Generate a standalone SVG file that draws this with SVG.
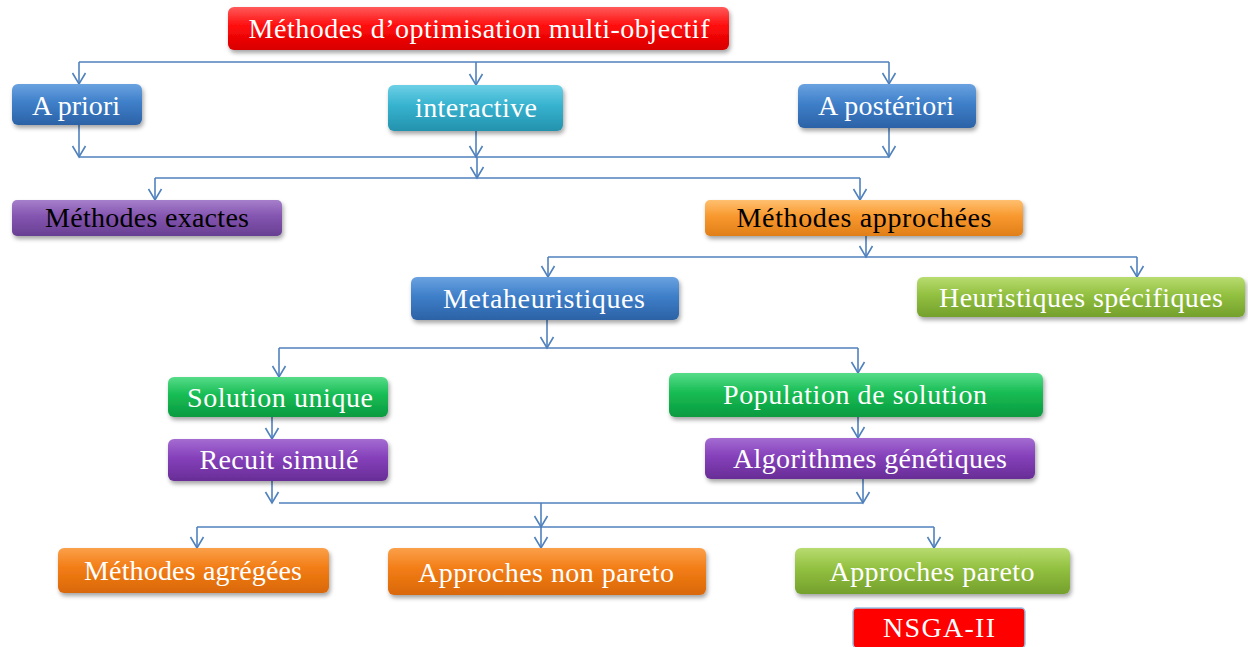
<svg xmlns="http://www.w3.org/2000/svg" width="1248" height="647" viewBox="0 0 1248 647">
<defs>
<style>
.t{font-family:"Liberation Serif","Times New Roman",serif;font-size:28px;fill:#fff;text-anchor:middle}
.k{fill:#000}
.b{filter:url(#sh)}
.c{fill:none;stroke:#4f81bd;stroke-width:1.6}
.a{marker-end:url(#ar)}
</style>
<filter id="sh" x="-10%" y="-30%" width="120%" height="170%">
<feDropShadow dx="1.5" dy="3" stdDeviation="2" flood-color="#000" flood-opacity="0.35"/>
</filter>
<marker id="ar" markerUnits="userSpaceOnUse" markerWidth="16" markerHeight="16" viewBox="0 0 16 16" refX="13" refY="8" orient="auto">
<path d="M2,1.5 L13,8 L2,14.5" fill="none" stroke="#4f81bd" stroke-width="1.6"/>
</marker>
<linearGradient id="gRed" x1="0" y1="0" x2="0" y2="1"><stop offset="0" stop-color="#ff5a5a"/><stop offset="0.45" stop-color="#ff0a0a"/><stop offset="1" stop-color="#d80000"/></linearGradient>
<linearGradient id="gBlue" x1="0" y1="0" x2="0" y2="1"><stop offset="0" stop-color="#6aa2e0"/><stop offset="0.45" stop-color="#3e7fc9"/><stop offset="1" stop-color="#2c62a6"/></linearGradient>
<linearGradient id="gCyan" x1="0" y1="0" x2="0" y2="1"><stop offset="0" stop-color="#6cd0e6"/><stop offset="0.45" stop-color="#36b2cf"/><stop offset="1" stop-color="#2492ad"/></linearGradient>
<linearGradient id="gPurpL" x1="0" y1="0" x2="0" y2="1"><stop offset="0" stop-color="#a67fcb"/><stop offset="0.45" stop-color="#8455b0"/><stop offset="1" stop-color="#683f92"/></linearGradient>
<linearGradient id="gPurp" x1="0" y1="0" x2="0" y2="1"><stop offset="0" stop-color="#a46cd2"/><stop offset="0.45" stop-color="#8540ba"/><stop offset="1" stop-color="#682d96"/></linearGradient>
<linearGradient id="gOrL" x1="0" y1="0" x2="0" y2="1"><stop offset="0" stop-color="#ffc070"/><stop offset="0.45" stop-color="#f8982e"/><stop offset="1" stop-color="#e07f18"/></linearGradient>
<linearGradient id="gOr" x1="0" y1="0" x2="0" y2="1"><stop offset="0" stop-color="#fba04a"/><stop offset="0.45" stop-color="#f27c14"/><stop offset="1" stop-color="#d9680a"/></linearGradient>
<linearGradient id="gLime" x1="0" y1="0" x2="0" y2="1"><stop offset="0" stop-color="#b8dc70"/><stop offset="0.45" stop-color="#92c040"/><stop offset="1" stop-color="#74a02c"/></linearGradient>
<linearGradient id="gGreen" x1="0" y1="0" x2="0" y2="1"><stop offset="0" stop-color="#56dc88"/><stop offset="0.45" stop-color="#16bc54"/><stop offset="1" stop-color="#0c9a40"/></linearGradient>
</defs>
<rect width="1248" height="647" fill="#fff"/>

<g id="connectors">
<path class="c" d="M79,62 H889"/>
<path class="c a" d="M79,62 V84"/>
<path class="c a" d="M476,62 V85"/>
<path class="c a" d="M889,62 V84"/>
<path class="c" d="M79,157 H889"/>
<path class="c a" d="M79,125 V157"/>
<path class="c a" d="M476,131 V157"/>
<path class="c a" d="M889,128 V157"/>
<path class="c a" d="M477,157 V178"/>
<path class="c" d="M155,178 H860"/>
<path class="c a" d="M155,178 V200"/>
<path class="c a" d="M860,178 V200"/>
<path class="c a" d="M866,236 V257"/>
<path class="c" d="M548,257 H1137"/>
<path class="c a" d="M548,257 V277"/>
<path class="c a" d="M1137,257 V277"/>
<path class="c a" d="M547,320 V348"/>
<path class="c" d="M279,348 H858"/>
<path class="c a" d="M279,348 V377"/>
<path class="c a" d="M858,348 V373"/>
<path class="c a" d="M272,417 V439"/>
<path class="c a" d="M858,417 V438"/>
<path class="c a" d="M272,481 V503"/>
<path class="c a" d="M863,479 V503"/>
<path class="c" d="M279,503 H863"/>
<path class="c a" d="M541,503 V527"/>
<path class="c" d="M197,527 H934"/>
<path class="c a" d="M197,527 V548"/>
<path class="c a" d="M541,527 V548"/>
<path class="c a" d="M934,527 V548"/>
</g>

<g id="n-title"><rect class="b" x="228" y="7" width="501" height="43" rx="6" fill="url(#gRed)"/><text class="t" x="479" y="38" textLength="461" lengthAdjust="spacing">Méthodes d’optimisation multi-objectif</text></g>
<g id="n-apriori"><rect class="b" x="12" y="84" width="130" height="41" rx="6" fill="url(#gBlue)"/><text class="t" x="76" y="115" textLength="88" lengthAdjust="spacing">A priori</text></g>
<g id="n-interactive"><rect class="b" x="388" y="85" width="175" height="46" rx="6" fill="url(#gCyan)"/><text class="t" x="476" y="117" textLength="122" lengthAdjust="spacing">interactive</text></g>
<g id="n-aposteriori"><rect class="b" x="798" y="84" width="178" height="44" rx="6" fill="url(#gBlue)"/><text class="t" x="886" y="115" textLength="136" lengthAdjust="spacing">A postériori</text></g>
<g id="n-exactes"><rect class="b" x="12" y="200" width="270" height="36" rx="5" fill="url(#gPurpL)"/><text class="t k" x="147" y="227" textLength="204" lengthAdjust="spacing">Méthodes exactes</text></g>
<g id="n-approchees"><rect class="b" x="705" y="200" width="318" height="36" rx="5" fill="url(#gOrL)"/><text class="t k" x="864" y="227" textLength="255" lengthAdjust="spacing">Méthodes approchées</text></g>
<g id="n-meta"><rect class="b" x="411" y="277" width="268" height="43" rx="6" fill="url(#gBlue)"/><text class="t" x="544" y="308" textLength="202" lengthAdjust="spacing">Metaheuristiques</text></g>
<g id="n-heur"><rect class="b" x="917" y="277" width="328" height="40" rx="6" fill="url(#gLime)"/><text class="t" x="1081" y="307" textLength="284" lengthAdjust="spacing">Heuristiques spécifiques</text></g>
<g id="n-solution"><rect class="b" x="168" y="377" width="220" height="40" rx="6" fill="url(#gGreen)"/><text class="t" x="280" y="407" textLength="186" lengthAdjust="spacing">Solution unique</text></g>
<g id="n-population"><rect class="b" x="669" y="373" width="374" height="44" rx="6" fill="url(#gGreen)"/><text class="t" x="855" y="404" textLength="264" lengthAdjust="spacing">Population de solution</text></g>
<g id="n-recuit"><rect class="b" x="168" y="439" width="220" height="42" rx="6" fill="url(#gPurp)"/><text class="t" x="279" y="469" textLength="159" lengthAdjust="spacing">Recuit simulé</text></g>
<g id="n-algo"><rect class="b" x="705" y="438" width="330" height="41" rx="6" fill="url(#gPurp)"/><text class="t" x="870" y="468" textLength="274" lengthAdjust="spacing">Algorithmes génétiques</text></g>
<g id="n-agregees"><rect class="b" x="58" y="548" width="271" height="45" rx="6" fill="url(#gOr)"/><text class="t" x="193" y="580" textLength="218" lengthAdjust="spacing">Méthodes agrégées</text></g>
<g id="n-nonpareto"><rect class="b" x="388" y="548" width="318" height="47" rx="6" fill="url(#gOr)"/><text class="t" x="546" y="582" textLength="256" lengthAdjust="spacing">Approches non pareto</text></g>
<g id="n-pareto"><rect class="b" x="795" y="548" width="275" height="46" rx="6" fill="url(#gLime)"/><text class="t" x="932" y="581" textLength="205" lengthAdjust="spacing">Approches pareto</text></g>
<g id="n-nsga"><rect x="853" y="608" width="172" height="40" rx="4" fill="#ff0000" stroke="#9cc2e5" stroke-width="1.5"/><text class="t" x="939" y="637" textLength="112" lengthAdjust="spacing">NSGA-II</text></g>
</svg>
